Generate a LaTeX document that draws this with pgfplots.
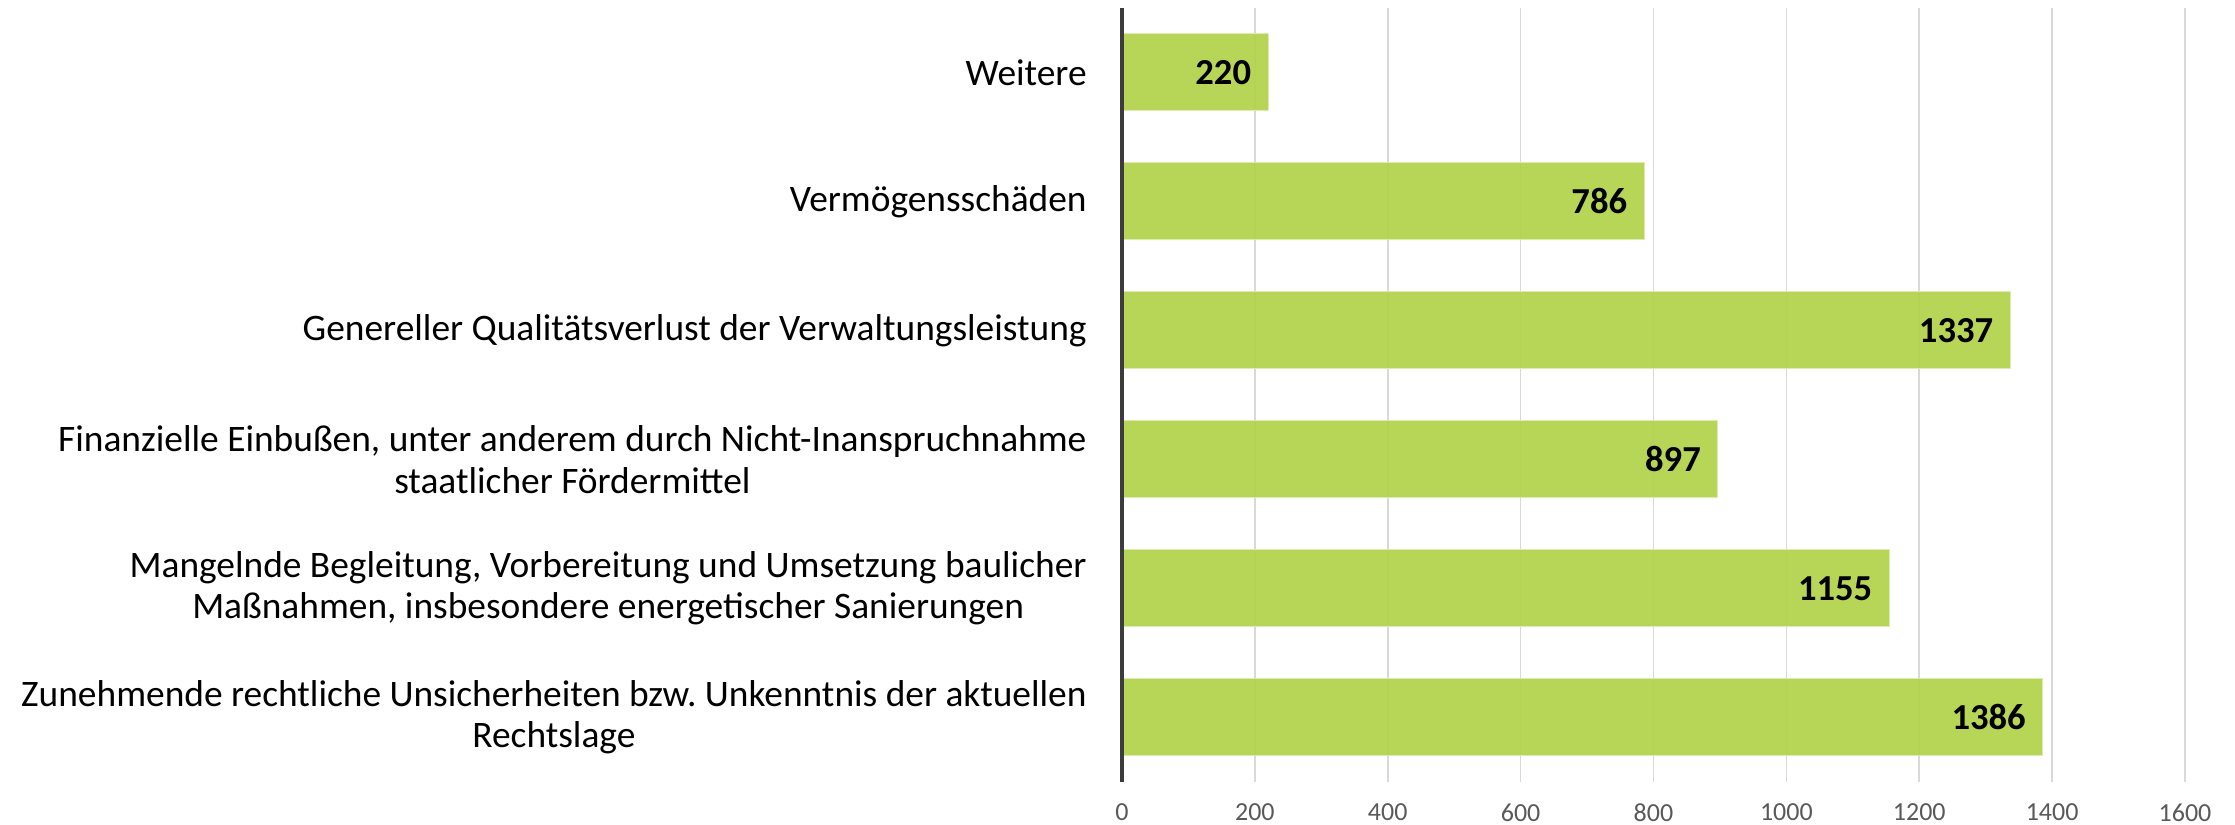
\documentclass[border=0pt]{standalone}
\usepackage{fontspec}
\setmainfont{Carlito}
\usepackage{pgfplots}
\pgfplotsset{compat=1.18}
\definecolor{bargreen}{RGB}{179,210,76}
\definecolor{gridgray}{RGB}{217,217,217}
\definecolor{axisdark}{RGB}{60,60,60}
\definecolor{ticktext}{RGB}{89,89,89}
\frenchspacing
\begin{document}
\begin{tikzpicture}
\begin{axis}[
  name=ax, at={(0,0)}, anchor=south west,
  scale only axis, width=531.5pt, height=387pt,
  xbar, bar width=38.5pt,
  xmin=0, xmax=1600, ymin=-0.5, ymax=5.5,
  xtick={0,200,...,1600},
  ytick={0,1,2,3,4,5},
  yticklabels={
    {Zunehmende rechtliche Unsicherheiten bzw.\ Unkenntnis der aktuellen\\Rechtslage},
    {Mangelnde Begleitung, Vorbereitung und Umsetzung baulicher\\Maßnahmen, insbesondere energetischer Sanierungen},
    {Finanzielle Einbußen, unter anderem durch Nicht-Inanspruchnahme\\staatlicher Fördermittel},
    {Genereller Qualitätsverlust der Verwaltungsleistung},
    {Vermögensschäden},
    {Weitere}},
  yticklabel style={align=center, inner sep=0pt, anchor=east, xshift=-17.5pt,
    font=\fontsize{18.7}{20.7}\selectfont},
  xticklabel style={inner sep=0pt, anchor=north, yshift=-10.6pt,
    font=\fontsize{13}{15}\selectfont, text=ticktext},
  /pgf/number format/assume math mode=true,
  /pgf/number format/1000 sep={},
  major tick length=0pt,
  tick style={draw=none},
  axis line style={draw=none},
  xmajorgrids, ymajorgrids=false,
  grid style={color=gridgray, line width=0.8pt},
  nodes near coords,
  every node near coord/.append style={anchor=east, inner sep=0pt, xshift=-8.3pt,
    font=\fontsize{18.3}{20}\selectfont\bfseries, text=black, text opacity=1},
  point meta=x,
  clip=false,
]
\addplot[fill=bargreen, fill opacity=0.94, draw=bargreen!45!white, line width=0.5pt]
  coordinates {(1386,0) (1155,1) (897,2) (1337,3) (786,4) (220,5)};
\draw[axisdark, line width=1.7pt] (axis cs:0,-0.5) -- (axis cs:0,5.5);
\end{axis}
\pgfresetboundingbox
\path ([shift={(-561pt,-21.5pt)}]ax.south west) rectangle ([shift={(25pt,4pt)}]ax.north east);
\end{tikzpicture}
\end{document}
